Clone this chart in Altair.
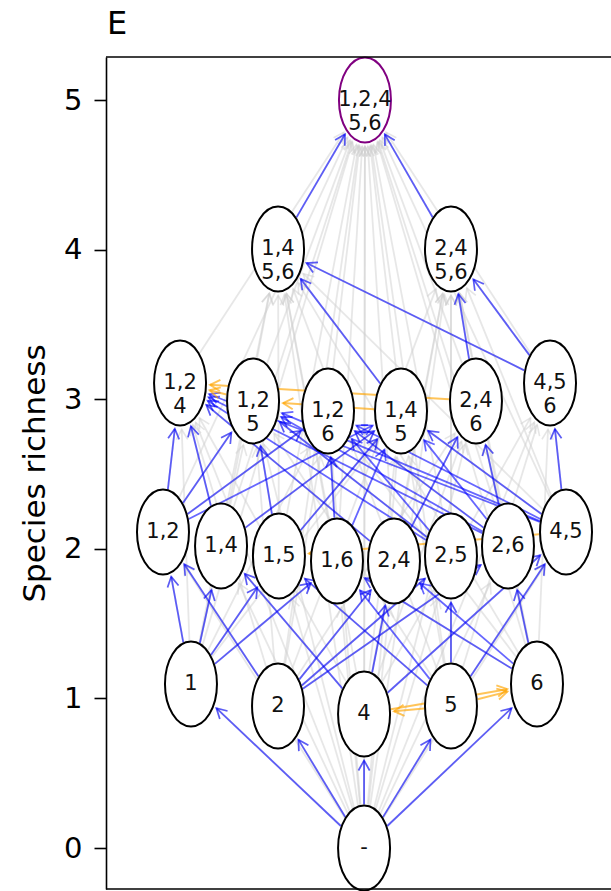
import math
import altair as alt
import pandas as pd

# ---------------- data ----------------
node_ids = ["-", "1", "2", "4", "5", "6",
            "12", "14", "15", "16", "24", "25", "26", "45",
            "124", "125", "126", "145", "246", "456",
            "1456", "2456", "12456"]
node_labels = ["-", "1", "2", "4", "5", "6",
               "1,2", "1,4", "1,5", "1,6", "2,4", "2,5", "2,6", "4,5",
               "1,2\n4", "1,2\n5", "1,2\n6", "1,4\n5", "2,4\n6", "4,5\n6",
               "1,4\n5,6", "2,4\n5,6", "1,2,4\n5,6"]
node_x = [1.725, 0.568, 1.150, 1.725, 2.306, 2.881,
          0.381, 0.769, 1.156, 1.544, 1.925, 2.306, 2.687, 3.075,
          0.495, 0.983, 1.484, 1.972, 2.473, 2.968,
          1.150, 2.306, 1.731]
node_y = [0.000, 1.096, 0.949, 0.896, 0.949, 1.096,
          2.112, 2.019, 1.952, 1.918, 1.918, 1.952, 2.019, 2.112,
          3.108, 2.988, 2.921, 2.921, 2.988, 3.108,
          4.004, 4.004, 5.000]
final_node = "12456"

blue_edges = [
    ("-", "1"), ("-", "2"), ("-", "4"), ("-", "5"), ("-", "6"),
    ("1", "12"), ("1", "14"), ("1", "15"), ("1", "16"),
    ("2", "12"), ("2", "24"), ("2", "25"), ("2", "26"),
    ("4", "14"), ("4", "24"), ("4", "45"),
    ("5", "15"), ("5", "25"), ("5", "45"), ("5", "16"),
    ("6", "16"), ("6", "26"), ("6", "24"),
    ("12", "124"), ("12", "125"), ("12", "126"), ("12", "145"),
    ("14", "124"), ("14", "145"),
    ("15", "125"), ("15", "145"),
    ("16", "126"), ("16", "145"),
    ("24", "124"), ("24", "246"),
    ("25", "124"), ("25", "125"), ("25", "126"),
    ("26", "124"), ("26", "125"), ("26", "126"), ("26", "246"), ("26", "145"),
    ("45", "124"), ("45", "125"), ("45", "126"), ("45", "145"), ("45", "456"),
    ("145", "1456"), ("246", "2456"), ("456", "1456"), ("456", "2456"),
    ("1456", "12456"), ("2456", "12456"),
]
orange_edges = [
    ("125", "124"), ("246", "124"), ("145", "125"),
    ("5", "4"), ("5", "6"), ("4", "6"), ("45", "15"),
]

y_ticks = [0, 1, 2, 3, 4, 5]

# ---------------- geometry helpers ----------------
PX = 149.6                     # pixels per data unit (same on both axes)
XMAX = 505 / PX
YMIN, YMAX = -41 / PX, 791 / PX
RX, RY = 26 / PX, 42.5 / PX    # ellipse semi-axes in data units

pos = {n: (x, y) for n, x, y in zip(node_ids, node_x, node_y)}
members = {n: set() if n == "-" else set(n) for n in node_ids}

grey_edges = [(a, b) for a in node_ids for b in node_ids
              if a != b and members[a] < members[b]]


def edge_table(edges, gap_src=1.0, gap_tgt=4.0):
    rows = []
    for s, t in edges:
        sx, sy = pos[s]
        tx, ty = pos[t]
        dx, dy = tx - sx, ty - sy
        L = math.hypot(dx, dy)
        ux, uy = dx / L, dy / L
        rb = 1.0 / math.sqrt((ux / RX) ** 2 + (uy / RY) ** 2)
        x0 = sx + ux * (rb + gap_src / PX)
        y0 = sy + uy * (rb + gap_src / PX)
        x1 = tx - ux * (rb + gap_tgt / PX)
        y1 = ty - uy * (rb + gap_tgt / PX)
        ang = (math.degrees(math.atan2(dx, dy)) + 360) % 360
        rows.append({"x0": x0, "y0": y0, "x1": x1, "y1": y1, "angle": ang})
    return pd.DataFrame(rows)


grey_df = edge_table(grey_edges)
blue_df = edge_table(blue_edges)
orange_df = edge_table(orange_edges)

nodes_df = pd.DataFrame({
    "id": node_ids, "label": node_labels, "x": node_x, "y": node_y,
    "stroke": ["purple" if n == final_node else "black" for n in node_ids],
})
frame_df = pd.DataFrame({"xa": [0.0, 0.0], "xb": [XMAX, XMAX], "yy": [YMIN, YMAX]})

# ---------------- encodings ----------------
x_scale = alt.Scale(domain=[0, XMAX], nice=False, zero=False)
y_scale = alt.Scale(domain=[YMIN, YMAX], nice=False, zero=False)
y_axis = alt.Axis(values=y_ticks, format="d", title="Species richness", grid=False)

k = 0.5523
rx = RX / RY
ellipse_path = (
    f"M0,-1 C{k*rx:.4f},-1 {rx:.4f},-{k} {rx:.4f},0 "
    f"C{rx:.4f},{k} {k*rx:.4f},1 0,1 "
    f"C-{k*rx:.4f},1 -{rx:.4f},{k} -{rx:.4f},0 "
    f"C-{rx:.4f},-{k} -{k*rx:.4f},-1 0,-1 Z"
)
arrow_path = "M-0.5,0.9 L0,0 L0.5,0.9"


def line_layer(df, color, opacity, width):
    return alt.Chart(df).mark_rule(color=color, opacity=opacity, strokeWidth=width).encode(
        x=alt.X("x0:Q", scale=x_scale, axis=None),
        y=alt.Y("y0:Q", scale=y_scale, axis=y_axis),
        x2="x1:Q", y2="y1:Q",
    )


def head_layer(df, color, opacity, width):
    return alt.Chart(df).mark_point(
        shape=arrow_path, filled=False, stroke=color, opacity=opacity,
        strokeWidth=width, size=500,
    ).encode(
        x=alt.X("x1:Q", scale=x_scale, axis=None),
        y=alt.Y("y1:Q", scale=y_scale, axis=y_axis),
        angle=alt.Angle("angle:Q", scale=None),
    )


frame = alt.Chart(frame_df).mark_rule(color="black", strokeWidth=1.6).encode(
    x=alt.X("xa:Q", scale=x_scale, axis=None),
    x2="xb:Q",
    y=alt.Y("yy:Q", scale=y_scale, axis=y_axis),
)

nodes = alt.Chart(nodes_df).mark_point(
    shape=ellipse_path, filled=True, fill="white", fillOpacity=1,
    strokeWidth=2, size=7225, opacity=1,
).encode(
    x=alt.X("x:Q", scale=x_scale, axis=None),
    y=alt.Y("y:Q", scale=y_scale, axis=y_axis),
    stroke=alt.Stroke("stroke:N", scale=None),
)

labels = alt.Chart(nodes_df).mark_text(
    font="DejaVu Sans", fontSize=21, lineBreak="\n", lineHeight=24,
    baseline="middle", align="center", color="#111111",
).encode(
    x=alt.X("x:Q", scale=x_scale, axis=None),
    y=alt.Y("y:Q", scale=y_scale, axis=y_axis),
    text="label:N",
)

chart = alt.layer(
    line_layer(grey_df, "#cfcfcf", 0.5, 1.8),
    head_layer(grey_df, "#cfcfcf", 0.5, 1.6),
    line_layer(blue_df, "blue", 0.6, 1.8),
    head_layer(blue_df, "blue", 0.6, 1.7),
    line_layer(orange_df, "orange", 0.65, 2.0),
    head_layer(orange_df, "orange", 0.65, 1.9),
    nodes,
    labels,
    frame,
).properties(
    width=505, height=832,
    padding={"left": 106, "top": 57, "right": 0, "bottom": 2},
    autosize=alt.AutoSizeParams(type="none"),
    title=alt.TitleParams("E", anchor="start", frame="group", font="DejaVu Sans",
                          fontSize=32, fontWeight="normal", color="black",
                          baseline="alphabetic", offset=22, dy=34, dx=1),
).configure_view(stroke=None).configure_axis(
    domainColor="black", domainWidth=1.6, tickColor="black", tickWidth=1.6,
    tickSize=12, labelFont="DejaVu Sans", labelFontSize=29, labelColor="black",
    labelPadding=12, titleFont="DejaVu Sans", titleFontSize=31,
    titleFontWeight="normal", titleColor="black", titlePadding=12,
)

chart.save("out.html", embed_options={"renderer": "svg", "actions": False})
